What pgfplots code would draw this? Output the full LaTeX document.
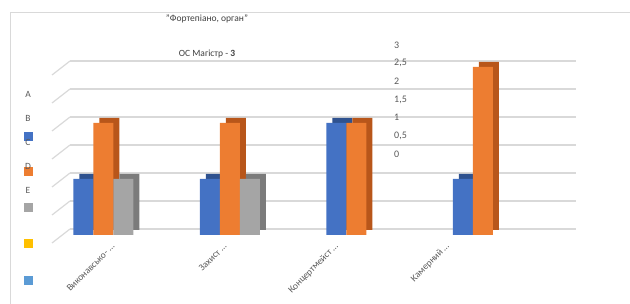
\documentclass[border=0pt]{standalone}
\usepackage{pgfplots}
\pgfplotsset{compat=1.18}
\usepackage{fontspec}
\setmainfont{Carlito}
\definecolor{cblue}{HTML}{4472C4}
\definecolor{cbluedark}{HTML}{2F528F}
\definecolor{corange}{HTML}{ED7D31}
\definecolor{corangedark}{HTML}{B8561A}
\definecolor{cgray}{HTML}{A5A5A5}
\definecolor{cgraydark}{HTML}{7B7B7B}
\definecolor{cyellow}{HTML}{FFC000}
\definecolor{clblue}{HTML}{5B9BD5}
\definecolor{gridgray}{HTML}{D9D9D9}
\definecolor{labgray}{HTML}{595959}
\definecolor{titgray}{HTML}{404040}
\begin{document}
\begin{tikzpicture}[x=1pt,y=1pt]
\useasboundingbox (0pt,0pt) rectangle (630pt,-304pt);
\draw[line width=1pt, gridgray] (10pt,-304pt) -- (10pt,-13pt) -- (630pt,-13pt);
\begin{axis}[at={(70pt,-229pt)}, anchor=south west, scale only axis,
  width=506pt, height=168pt, xmin=-0.5, xmax=3.5, ymin=0, ymax=3,
  axis line style={draw=none}, xtick=\empty, ytick={0,0.5,1,1.5,2,2.5,3},
  yticklabels={}, major tick length=0pt, ymajorgrids,
  major grid style={draw=gridgray, line width=1.2pt}, clip=false]
\pgfplotsinvokeforeach{0,0.5,1,1.5,2,2.5,3}{
  \draw[gridgray, line width=1.2pt] (axis cs:-0.5,#1) -- ++(-18pt,-14pt);
}
% blue
\addplot[ybar, bar width=20pt, bar shift=-20pt, xshift=-24pt, yshift=-1pt, fill=cbluedark, draw=none]
  coordinates {(0,1) (1,1) (2,2) (3,1)};
\addplot[ybar, bar width=20pt, bar shift=-20pt, xshift=-30pt, yshift=-6pt, fill=cblue, draw=none]
  coordinates {(0,1) (1,1) (2,2) (3,1)};
% orange
\addplot[ybar, bar width=20pt, bar shift=0pt, xshift=-24pt, yshift=-1pt, fill=corangedark, draw=none]
  coordinates {(0,2) (1,2) (2,2) (3,3)};
\addplot[ybar, bar width=20pt, bar shift=0pt, xshift=-30pt, yshift=-6pt, fill=corange, draw=none]
  coordinates {(0,2) (1,2) (2,2) (3,3)};
% gray
\addplot[ybar, bar width=20pt, bar shift=20pt, xshift=-24pt, yshift=-1pt, fill=cgraydark, draw=none]
  coordinates {(0,1) (1,1)};
\addplot[ybar, bar width=20pt, bar shift=20pt, xshift=-30pt, yshift=-6pt, fill=cgray, draw=none]
  coordinates {(0,1) (1,1)};
\end{axis}
\begin{axis}[at={(393pt,-154pt)}, anchor=south west, scale only axis,
  width=1pt, height=109pt, xmin=0, xmax=1, ymin=0, ymax=3,
  axis line style={draw=none}, xtick=\empty, ytick={0,0.5,1,1.5,2,2.5,3},
  yticklabel pos=right, major tick length=0pt,
  /pgf/number format/use comma, /pgf/number format/assume math mode=true,
  yticklabel style={anchor=west, inner sep=0pt, font=\fontsize{10}{11}\selectfont, text=labgray}]
\addplot[draw=none] coordinates {(0,0) (1,3)};
\end{axis}
% titles
\node[font=\fontsize{9.5}{11}\selectfont, text=titgray] at (207pt,-19pt) {"Фортепіано, орган"};
\node[font=\fontsize{9.5}{11}\selectfont, text=titgray] at (207pt,-54pt) {ОС Магістр - \textbf{3}};
% category labels
\foreach \xx/\lab in {113/{Виконавсько- \ldots}, 225/{Захист \ldots}, 337/{Концертмейст \ldots}, 448/{Камерний \ldots}}{
  \node[rotate=45, anchor=east, inner sep=0pt, font=\fontsize{9.5}{11}\selectfont, text=labgray] at (\xx pt,-245pt) {\lab};
}
% legend
\fill[cblue] (23.5pt,-132.5pt) rectangle ++(9pt,-9pt);
\fill[corange] (23.5pt,-167.5pt) rectangle ++(9pt,-9pt);
\fill[cgray] (23.5pt,-203.5pt) rectangle ++(9pt,-9pt);
\fill[cyellow] (23.5pt,-239.5pt) rectangle ++(9pt,-9pt);
\fill[clblue] (23.5pt,-276.5pt) rectangle ++(9pt,-9pt);
\foreach \yy/\l in {94/A,118/B,142/C,166/D,190/E}{
  \node[font=\fontsize{9.5}{11}\selectfont, text=labgray] at (28pt,-\yy pt) {\l};
}
\end{tikzpicture}
\end{document}
